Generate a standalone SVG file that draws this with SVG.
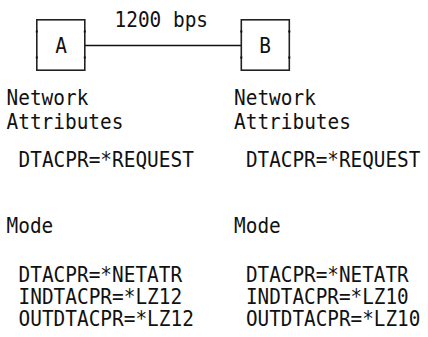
<svg xmlns="http://www.w3.org/2000/svg" width="428" height="337" viewBox="0 0 428 337">
  <style>
    .box { fill: #ffffff; stroke: #222222; stroke-width: 1.6; }
    .tick { fill: #111111; }
    .link { stroke: #111111; stroke-width: 1.4; fill: none; }
    text { font-family: "DejaVu Sans Mono", "Liberation Mono", monospace; font-size: 21px; fill: #111111; }
  </style>
  <rect width="428" height="337" fill="#ffffff"/>

  <!-- connector between the two systems -->
  <g id="connectors">
    <line class="link" x1="85" y1="45.5" x2="241" y2="45.5"/>
    <text id="link-label" transform="translate(114.5 27) scale(0.925 1)">1200 bps</text>
  </g>

  <!-- system A -->
  <g id="node-a">
    <rect class="box" x="36.8" y="19.8" width="48" height="50.4"/>
    <rect class="tick" x="35.8" y="30.5" width="2" height="2"/>
    <rect class="tick" x="35.8" y="56.5" width="2" height="2"/>
    <rect class="tick" x="83.8" y="30.5" width="2" height="2"/>
    <rect class="tick" x="83.8" y="56.5" width="2" height="2"/>
    <text transform="translate(61 53) scale(0.925 1)" text-anchor="middle">A</text>
  </g>

  <!-- system B -->
  <g id="node-b">
    <rect class="box" x="241.3" y="19.8" width="48" height="50.4"/>
    <rect class="tick" x="240.3" y="30.5" width="2" height="2"/>
    <rect class="tick" x="240.3" y="56.5" width="2" height="2"/>
    <rect class="tick" x="288.3" y="30.5" width="2" height="2"/>
    <rect class="tick" x="288.3" y="56.5" width="2" height="2"/>
    <text transform="translate(265 53) scale(0.925 1)" text-anchor="middle">B</text>
  </g>

  <!-- settings listed under system A -->
  <g id="settings-a">
    <text transform="translate(6.5 105) scale(0.925 1)">Network</text>
    <text transform="translate(6.5 129) scale(0.925 1)">Attributes</text>
    <text transform="translate(18.5 167) scale(0.925 1)">DTACPR=*REQUEST</text>
    <text transform="translate(6.5 233) scale(0.925 1)">Mode</text>
    <text transform="translate(18.5 282) scale(0.925 1)">DTACPR=*NETATR</text>
    <text transform="translate(18.5 304) scale(0.925 1)">INDTACPR=*LZ12</text>
    <text transform="translate(18.5 326) scale(0.925 1)">OUTDTACPR=*LZ12</text>
  </g>

  <!-- settings listed under system B -->
  <g id="settings-b">
    <text transform="translate(234 105) scale(0.925 1)">Network</text>
    <text transform="translate(234 129) scale(0.925 1)">Attributes</text>
    <text transform="translate(246 167) scale(0.92 1)">DTACPR=*REQUEST</text>
    <text transform="translate(234 233) scale(0.925 1)">Mode</text>
    <text transform="translate(246 282) scale(0.92 1)">DTACPR=*NETATR</text>
    <text transform="translate(246 304) scale(0.92 1)">INDTACPR=*LZ10</text>
    <text transform="translate(246 326) scale(0.92 1)">OUTDTACPR=*LZ10</text>
  </g>
</svg>
